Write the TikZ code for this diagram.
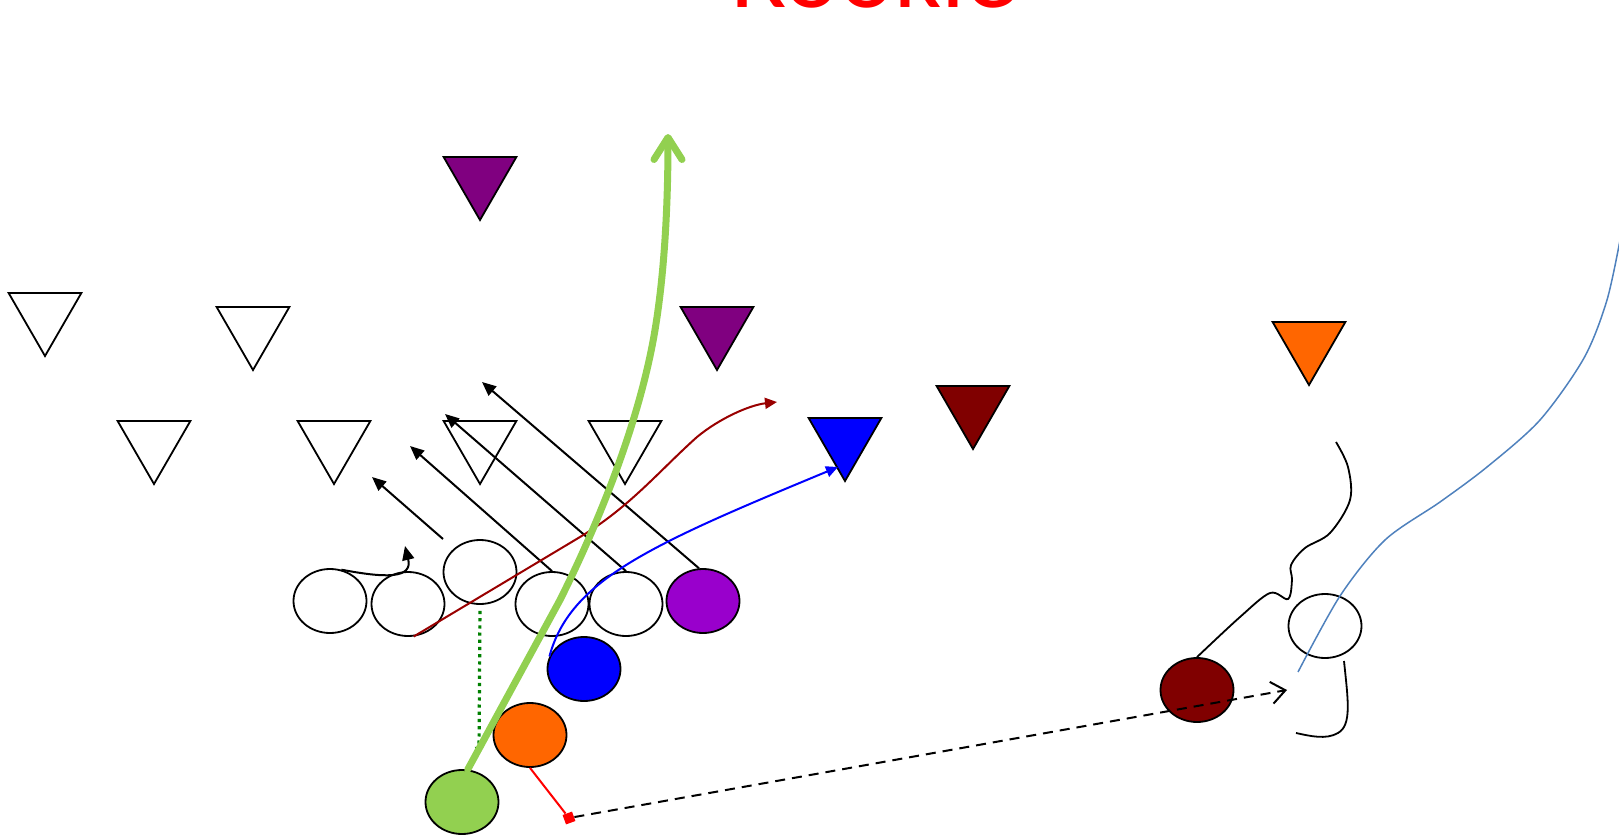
\documentclass[tikz,border=0pt]{standalone}
\usepackage{fontspec}
\newfontfamily\headfont{Carlito}
\usetikzlibrary{arrows.meta,shapes.geometric}

\definecolor{lbpurple}{HTML}{800080}
\definecolor{tevioet}{HTML}{9900CC}
\definecolor{dmaroon}{HTML}{800000}
\definecolor{dorange}{HTML}{FF6600}
\definecolor{qbgreen}{HTML}{92D050}
\definecolor{routered}{HTML}{990000}
\definecolor{motionblue}{HTML}{4F81BD}
\definecolor{dropgreen}{HTML}{008000}

\begin{document}
\begin{tikzpicture}[
            x=0.5pt, y=-0.5pt,
            player/.style={draw, ellipse, line width=0.9pt,
                minimum width=36.5pt, minimum height=32pt, inner sep=0pt},
            defender/.style={draw, regular polygon, regular polygon sides=3,
                shape border rotate=180, line width=0.9pt,
                minimum size=42pt, inner sep=0pt},
            block/.style={line width=1pt, -{Triangle[length=7pt,width=6pt]}},
            route/.style={line width=1pt, -{Triangle[length=6pt,width=5.5pt]}}
        ]
            \useasboundingbox (0,0) rectangle (1619,835);

            \node[
                text=red,
                font=\headfont\fontsize{52}{52}\selectfont,
                anchor=base,
                name=title
            ] at (874,8) {Rookie};

            % defense
            \node[defender, name=t1] at (45,314) {};
            \node[defender, name=t2] at (253,328) {};
            \node[defender, name=t3] at (154,442) {};
            \node[defender, name=t4] at (334,442) {};
            \node[defender, name=t5] at (480,442) {};
            \node[defender, name=t6] at (625,442) {};
            \node[defender, fill=lbpurple, name=mlb] at (480,178) {};
            \node[defender, fill=lbpurple, name=olb] at (717,328) {};
            \node[defender, fill=blue, name=de] at (845,439) {};
            \node[defender, fill=dmaroon, name=cb] at (973,407) {};
            \node[defender, fill=dorange, name=fs] at (1309,343) {};

            % offense
            \node[player, name=c1] at (330,601) {};
            \node[player, name=c2] at (408,604) {};
            \node[player, name=c3] at (480,572) {};
            \node[player, name=c4] at (552,604) {};
            \node[player, name=c5] at (626,604) {};
            \node[player, fill=tevioet, name=te] at (703,601) {};
            \node[player, fill=blue, name=hb] at (584,669) {};
            \node[player, fill=dorange, name=fb] at (530,735) {};
            \node[player, fill=qbgreen, name=qb] at (462,802) {};
            \node[player, fill=dmaroon, name=wr] at (1197,690) {};
            \node[player, name=sl] at (1325,626) {};

            \node[
                fill=red,
                minimum size=5pt,
                inner sep=0pt,
                rotate=20,
                name=pt
            ] at (569,818) {};

            \coordinate (a1) at (443,539);
            \coordinate (h1) at (372,477);
            \coordinate (h2) at (410,446);
            \coordinate (h3) at (445,414);
            \coordinate (h4) at (482,382);
            \coordinate (drop) at (479,755);
            \coordinate (deep) at (668,134);
            \coordinate (flat) at (777,402);
            \coordinate (edge) at (838,467);
            \coordinate (aim) at (1287,690);
            \coordinate (mot) at (1298,672);

            % line blocks
            \draw[block] (a1) -- (h1);
            \draw[block] (c4.north) -- (h2);
            \draw[block] (c5.north) -- (h3);
            \draw[block] (te.97) -- (h4);
            \draw[block] (c1.70) .. controls (385,578) and (413,579) .. (405,546);

            % backfield
            \draw[dropgreen, line width=1.6pt, dash pattern=on 1.6pt off 2pt,
                shorten <=3pt, -{Triangle[length=4pt,width=4pt]}] (c3.south) -- (drop);
            \draw[red, line width=1pt] (fb.south) -- (pt);
            \draw[line width=1pt, dash pattern=on 5pt off 3.5pt,
                -{Straight Barb[length=7pt,width=11pt]}] (pt) -- (aim);
            \draw[routered, route] (c2.-80) -- (580,537)
                .. controls (630,507) and (660,470) .. (697,437)
                .. controls (720,418) and (750,405) .. (flat);
            \draw[blue, route] (hb.160) .. controls (570,580) and (650,545) .. (edge);
            \draw[qbgreen, line width=3.5pt, line cap=round,
                -{Straight Barb[length=11pt,width=14pt,round]}] (qb.80) -- (560,600)
                .. controls (600,520) and (640,420) .. (655,330)
                .. controls (665,270) and (668,200) .. (deep);

            % receiver side
            \draw[line width=0.9pt] plot[smooth, tension=0.55] coordinates {(wr.north)
                (1240,617) (1270,593) (1288,599) (1292,580) (1291,565) (1305,548)
                (1330,533) (1350,500) (1348,467) (1336,442)};
            \draw[line width=0.9pt] (1344,661) .. controls (1348,700) and (1352,725) .. (1338,733)
                .. controls (1326,740) and (1310,736) .. (1296,733);
            \draw[motionblue, line width=0.75pt] plot[smooth] coordinates {(mot)
                (1340,596) (1385,540) (1440,502) (1487,467) (1540,420)
                (1584,358) (1607,300) (1621,235)};
        \end{tikzpicture}
\end{document}
